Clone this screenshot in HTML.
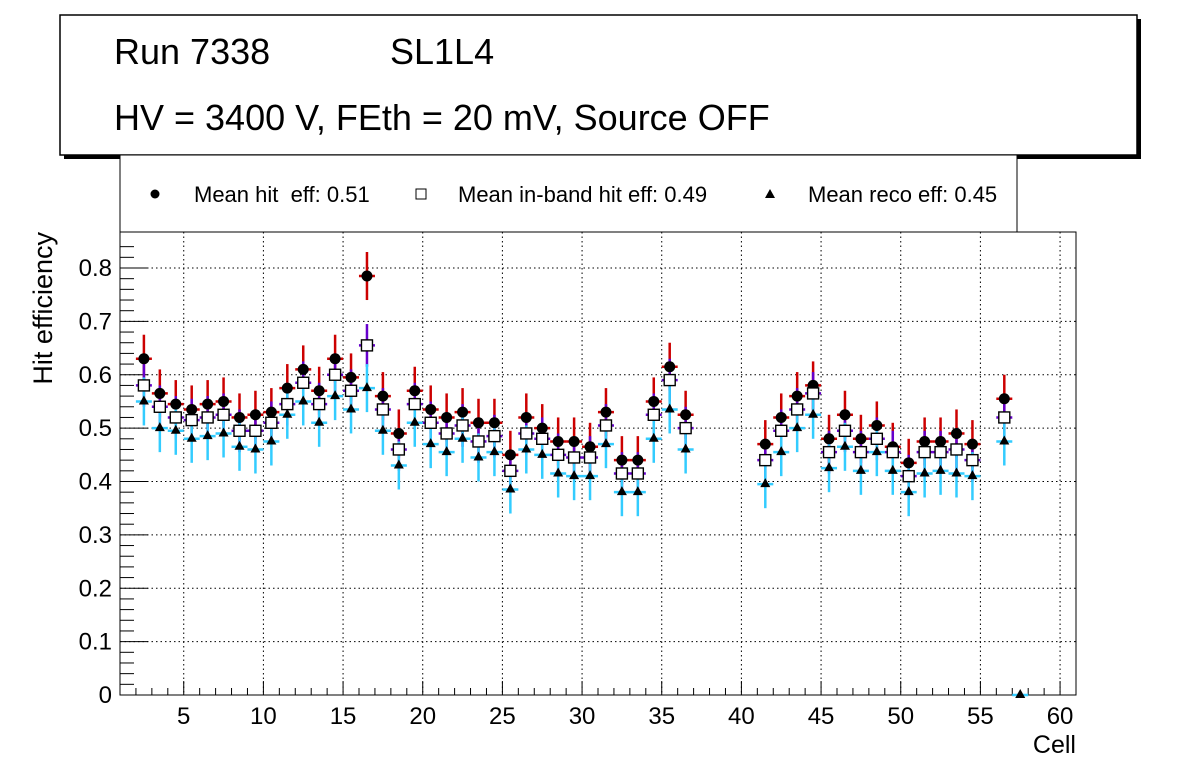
<!DOCTYPE html>
<html><head><meta charset="utf-8"><style>
body{margin:0;background:#fff;}
svg{display:block;font-family:"Liberation Sans",sans-serif;}
text{white-space:pre;}
</style></head><body>
<svg id="chart" width="1196" height="772">
<g>
<rect x="64" y="19" width="1077" height="140" fill="#000"/>
<rect x="60" y="15" width="1077" height="140" fill="#fff" stroke="#000" stroke-width="1.5"/>
<text x="114" y="64" font-size="36">Run 7338</text>
<text x="390" y="64" font-size="36">SL1L4</text>
<text x="114" y="130" font-size="36">HV = 3400 V, FEth = 20 mV, Source OFF</text>
</g>
<g>
<rect x="120" y="155" width="897" height="77" fill="#fff" stroke="#000" stroke-width="1"/>
<g><circle cx="155" cy="194" r="4.5" fill="#000"/><text x="194" y="202" font-size="22">Mean hit  eff: 0.51</text></g>
<g><rect x="416" y="189" width="10" height="10" fill="#fff" stroke="#000"/><text x="458" y="202" font-size="22">Mean in-band hit eff: 0.49</text></g>
<g><path d="M770,189 L775,198 L765,198Z" fill="#000"/><text x="808" y="202" font-size="22">Mean reco eff: 0.45</text></g>
</g>
<g id="plot"></g>
</svg>
<script>
const cells=[2,3,4,5,6,7,8,9,10,11,12,13,14,15,16,17,18,19,20,21,22,23,24,25,26,27,28,29,30,31,32,33,34,35,36,41,42,43,44,45,46,47,48,49,50,51,52,53,54,56];
const hitEff=[0.63,0.565,0.545,0.535,0.545,0.55,0.52,0.525,0.53,0.575,0.61,0.57,0.63,0.595,0.785,0.56,0.49,0.57,0.535,0.52,0.53,0.51,0.51,0.45,0.52,0.50,0.475,0.475,0.465,0.53,0.44,0.44,0.55,0.615,0.525,0.47,0.52,0.56,0.58,0.48,0.525,0.48,0.505,0.465,0.435,0.475,0.475,0.49,0.47,0.555];
const inbandEff=[0.58,0.54,0.52,0.515,0.52,0.525,0.495,0.495,0.51,0.545,0.585,0.545,0.60,0.57,0.655,0.535,0.46,0.545,0.51,0.49,0.505,0.475,0.485,0.42,0.49,0.48,0.45,0.445,0.445,0.505,0.415,0.415,0.525,0.59,0.50,0.44,0.495,0.535,0.565,0.455,0.495,0.455,0.48,0.455,0.41,0.455,0.455,0.46,0.44,0.52];
const recoCells=[2,3,4,5,6,7,8,9,10,11,12,13,14,15,16,17,18,19,20,21,22,23,24,25,26,27,28,29,30,31,32,33,34,35,36,41,42,43,44,45,46,47,48,49,50,51,52,53,54,56,57];
const recoEff=[0.55,0.50,0.495,0.48,0.485,0.49,0.465,0.46,0.475,0.525,0.55,0.51,0.56,0.535,0.575,0.495,0.43,0.51,0.47,0.455,0.48,0.445,0.455,0.385,0.46,0.45,0.415,0.41,0.41,0.47,0.38,0.38,0.48,0.535,0.46,0.395,0.455,0.50,0.525,0.425,0.465,0.42,0.455,0.42,0.38,0.415,0.42,0.415,0.41,0.475,0.0];
const xTicks=[5,10,15,20,25,30,35,40,45,50,55,60];
const yTicks=[0,0.1,0.2,0.3,0.4,0.5,0.6,0.7,0.8];
const X0=120,X1=1076,Y0=695,YT=232;
const xs=v=>X0+(v-1)/60*(X1-X0);
const ys=v=>Y0-v*533.75;
const NS="http://www.w3.org/2000/svg";
const plot=document.getElementById('plot');
function mk(tag,attrs,parent){const e=document.createElementNS(NS,tag);for(const k in attrs)e.setAttribute(k,attrs[k]);(parent||plot).appendChild(e);return e;}
yTicks.forEach(t=>{if(t>0){const l=mk('line',{x1:X0,x2:X1,y1:ys(t),y2:ys(t),stroke:'#000','stroke-dasharray':'1.5,3','stroke-width':1});

}});
xTicks.forEach(t=>{const l=mk('line',{x1:xs(t),x2:xs(t),y1:YT,y2:Y0,stroke:'#000','stroke-dasharray':'1.5,3','stroke-width':1});

});
const frame=mk('rect',{x:X0,y:YT,width:X1-X0,height:Y0-YT,fill:'none',stroke:'#000','stroke-width':1});


for(let v=1;v<=61;v++){const big=v%5===0;mk('line',{x1:xs(v),x2:xs(v),y1:Y0,y2:Y0-(big?14:7),stroke:'#000'});}
xTicks.forEach(t=>{const tx=mk('text',{x:xs(t),y:Y0+29,'font-size':24,'text-anchor':'middle'});tx.textContent=t;

});
for(let v=0;v<=0.86;v+=0.02){const big=Math.abs(v*10-Math.round(v*10))<1e-6;mk('line',{x1:X0,x2:X0+(big?28:14),y1:ys(v),y2:ys(v),stroke:'#000'});}
yTicks.forEach(t=>{const tx=mk('text',{x:X0-8,y:ys(t)+8,'font-size':24,'text-anchor':'end'});tx.textContent=t===0?'0':t.toFixed(1);

});
const xt=mk('text',{x:1076,y:753,'font-size':25,'text-anchor':'end'});xt.textContent='Cell';


const yt=mk('text',{x:0,y:0,'font-size':27,'text-anchor':'end',transform:'translate(52,232) rotate(-90)'});yt.textContent='Hit efficiency';


const barsG=mk('g',{});


const marksG=mk('g',{});


function series(cs,vals,err,color,kind,name,hw){
 const g=mk('g',{},marksG);
 
 
 cs.forEach((c,i)=>{const cx=xs(c+0.5),cy=ys(vals[i]);
  const e=vals[i]>0?err:0;
  mk('line',{x1:cx,x2:cx,y1:ys(vals[i]+e),y2:ys(Math.max(0,vals[i]-e)),stroke:color,'stroke-width':2.5},barsG);
  mk('line',{x1:cx-hw,x2:cx+hw,y1:cy,y2:cy,stroke:color,'stroke-width':2.5},barsG);
  let m;
  if(kind==='c')m=mk('circle',{cx:cx,cy:cy,r:5.5,fill:'#000'},g);
  else if(kind==='s')m=mk('rect',{x:cx-5.5,y:cy-5.5,width:11,height:11,fill:'#fff',stroke:'#000','stroke-width':1.4},g);
  else m=mk('path',{d:`M${cx},${cy-6}L${cx+5},${cy+3}L${cx-5},${cy+3}Z`,fill:'#000'},g);
  
  
 });
}
series(cells,hitEff,0.045,'#cc0000','c','hit-series',8);
series(cells,inbandEff,0.04,'#6600cc','s','inband-series',8);
series(recoCells,recoEff,0.045,'#33ccff','t','reco-series',8);
</script>
</body></html>
